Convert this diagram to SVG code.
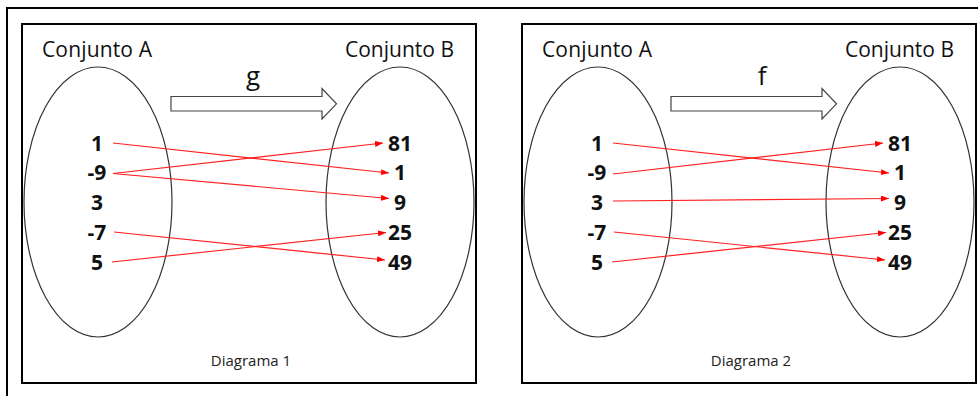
<svg xmlns="http://www.w3.org/2000/svg" width="978" height="396" viewBox="0 0 978 396">
<defs>
<marker id="ah" viewBox="0 0 8 6" refX="8" refY="3" markerWidth="8" markerHeight="6" markerUnits="userSpaceOnUse" orient="auto">
<path d="M0,0 L8,3 L0,6 z" fill="#ff0000"/>
</marker>
<style>
.frame{fill:none;stroke:#000;stroke-width:2}
.ell{fill:none;stroke:#333;stroke-width:1.2}
.lbl{font-family:"Open Sans","Liberation Sans",sans-serif;font-size:21px;fill:#111}
.num{font-family:"Open Sans","Liberation Sans",sans-serif;font-size:21px;font-weight:bold;fill:#111;text-anchor:middle}
.cap{font-family:"Open Sans","Liberation Sans",sans-serif;font-size:15px;fill:#222;text-anchor:middle}
.fn{font-family:"Open Sans","Liberation Sans",sans-serif;font-size:26px;fill:#111;text-anchor:middle}
.bar{fill:#fff;stroke:#444;stroke-width:1.2}
.con{stroke:#ff2020;stroke-width:1.2;fill:none;marker-end:url(#ah)}
</style>
</defs>
<rect width="978" height="396" fill="#fff"/>
<path d="M7,396 V8 H978" fill="none" stroke="#000" stroke-width="2"/>

<g id="diagram1">
<rect class="frame" x="22" y="24" width="454" height="359"/>
<g id="d1-setA">
<ellipse class="ell" cx="98" cy="202" rx="74" ry="135"/>
<text class="lbl" x="97" y="57" text-anchor="middle" textLength="110">Conjunto A</text>
<text class="num" x="97" y="151">1</text>
<text class="num" x="97" y="180">-9</text>
<text class="num" x="97" y="210">3</text>
<text class="num" x="97" y="240">-7</text>
<text class="num" x="97" y="270">5</text>
</g>
<g id="d1-setB">
<ellipse class="ell" cx="400" cy="202" rx="74" ry="135"/>
<text class="lbl" x="399.5" y="57" text-anchor="middle" textLength="109">Conjunto B</text>
<text class="num" x="400" y="151">81</text>
<text class="num" x="400" y="180">1</text>
<text class="num" x="400" y="210">9</text>
<text class="num" x="400" y="240">25</text>
<text class="num" x="400" y="270">49</text>
</g>
<g id="d1-map">
<path class="bar" d="M171,96.5 H322 V88.5 L336.5,103.8 L322,119 V111 H171 Z"/>
<text class="fn" x="253" y="85">g</text>
</g>
<text class="cap" x="251" y="366">Diagrama 1</text>
<g id="d1-connectors">
<line class="con" x1="113" y1="143" x2="389" y2="173"/>
<line class="con" x1="113" y1="173.5" x2="383" y2="143"/>
<line class="con" x1="113" y1="173.5" x2="389" y2="198.5"/>
<line class="con" x1="114" y1="232" x2="385" y2="260"/>
<line class="con" x1="112" y1="262" x2="386" y2="232.5"/>
</g>
</g>

<g id="diagram2" transform="translate(500,0)">
<rect class="frame" x="22" y="24" width="454" height="359"/>
<g id="d2-setA">
<ellipse class="ell" cx="98" cy="202" rx="74" ry="135"/>
<text class="lbl" x="97" y="57" text-anchor="middle" textLength="110">Conjunto A</text>
<text class="num" x="97" y="151">1</text>
<text class="num" x="97" y="180">-9</text>
<text class="num" x="97" y="210">3</text>
<text class="num" x="97" y="240">-7</text>
<text class="num" x="97" y="270">5</text>
</g>
<g id="d2-setB">
<ellipse class="ell" cx="400" cy="202" rx="74" ry="135"/>
<text class="lbl" x="399.5" y="57" text-anchor="middle" textLength="109">Conjunto B</text>
<text class="num" x="400" y="151">81</text>
<text class="num" x="400" y="180">1</text>
<text class="num" x="400" y="210">9</text>
<text class="num" x="400" y="240">25</text>
<text class="num" x="400" y="270">49</text>
</g>
<g id="d2-map">
<path class="bar" d="M171,96.5 H322 V88.5 L336.5,103.8 L322,119 V111 H171 Z"/>
<text class="fn" x="262" y="85">f</text>
</g>
<text class="cap" x="251" y="366">Diagrama 2</text>
<g id="d2-connectors">
<line class="con" x1="113" y1="143" x2="389" y2="173"/>
<line class="con" x1="113" y1="174" x2="383" y2="143"/>
<line class="con" x1="113" y1="201" x2="389" y2="198.5"/>
<line class="con" x1="114" y1="232" x2="385" y2="260"/>
<line class="con" x1="112" y1="262" x2="386" y2="232.5"/>
</g>
</g>
</svg>
